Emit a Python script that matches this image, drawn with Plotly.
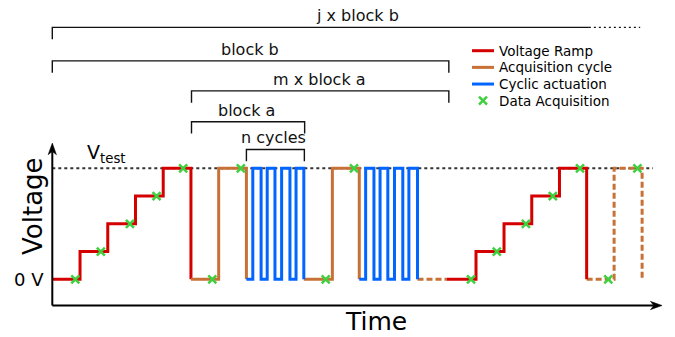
import plotly.graph_objects as go

# ---------------- data (time in step units, voltage in step levels) ----------------
ramp1_t = [0.0, 1.0, 2.0, 3.0, 4.0, 5.0]
ramp1_v = [0, 1, 2, 3, 4, 0]
ramp2_t = [14.23, 15.28, 16.29, 17.29, 18.29, 19.27]
ramp2_v = [0, 1, 2, 3, 4, 0]

acq1_t = [5.0, 6.0, 7.0]
acq1_v = [0, 4, 0]
acq2_t = [9.07, 10.1, 11.07]
acq2_v = [0, 4, 0]
acq3_t = [13.17, 14.23]          # dashed
acq3_v = [0, 0]
acq4_t = [19.27, 20.26, 21.27]   # dashed
acq4_v = [0, 4, 0]

act1_t = [7.0, 7.23, 7.53, 7.75, 8.03, 8.27, 8.57, 8.79, 9.07]
act1_v = [0, 4, 0, 4, 0, 4, 0, 4, 0]
act2_t = [11.07, 11.3, 11.6, 11.82, 12.1, 12.34, 12.64, 12.86, 13.17]
act2_v = [0, 4, 0, 4, 0, 4, 0, 4, 0]

daq_t = [0.83, 1.75, 2.80, 3.76, 4.72, 5.77, 6.80, 9.86, 10.88,
         15.10, 16.03, 17.08, 18.05, 19.03, 20.05, 21.10]
daq_v = [0, 1, 2, 3, 4, 0, 4, 0, 4, 0, 1, 2, 3, 4, 0, 4]

v_test_level = 4
v_test_end = 21.66

bracket_labels = ["j x block b", "block b", "m x block a", "block a", "n cycles"]
bracket_start = [0.0, 0.0, 5.02, 5.02, 7.0]
bracket_end = [21.2, 14.3, 14.3, 9.1, 9.09]
bracket_solid_end = [19.35, 14.3, 14.3, 9.1, 9.09]
bracket_level = [9.08, 7.87, 6.79, 5.68, 4.68]
bracket_right_tick = [False, True, True, True, True]
bracket_label_t = [11.0, 7.13, 9.65, 7.01, 7.96]
bracket_tick = 0.43

legend_labels = ["Voltage Ramp", "Acquisition cycle", "Cyclic actuation", "Data Acquisition"]
legend_kinds = ["line", "line", "line", "marker"]

# axis extents (data units)
x_view = [-1.886, 22.456]
y_view = [-2.079, 10.065]
axis_origin = (0.0, -0.944)
x_axis_end = 21.99
y_axis_end = 4.91

# ---------------- styles ----------------
RED = "#d40000"
ORANGE = "#c87137"
BLUE = "#0066ff"
GREEN = "#3fcf3f"
legend_colors = [RED, ORANGE, BLUE, GREEN]
FONT = "DejaVu Sans"
LW = 3
W, H = 675, 337

fig = go.Figure()

def add_line(t, v, color, name, dash="solid"):
    fig.add_trace(go.Scatter(
        x=t, y=v, mode="lines", line=dict(color=color, width=LW, shape="hv", dash=dash),
        name=name, showlegend=False, hoverinfo="skip"))

add_line(ramp1_t, ramp1_v, RED, "Voltage Ramp")
add_line(acq1_t, acq1_v, ORANGE, "Acquisition cycle")
add_line(acq2_t, acq2_v, ORANGE, "Acquisition cycle")
add_line(acq3_t, acq3_v, ORANGE, "Acquisition cycle", dash="6px,3px")
add_line(acq4_t, acq4_v, ORANGE, "Acquisition cycle", dash="6px,3px")
add_line(ramp2_t, ramp2_v, RED, "Voltage Ramp")
add_line(act1_t, act1_v, BLUE, "Cyclic actuation")
add_line(act2_t, act2_v, BLUE, "Cyclic actuation")

MARKER = dict(symbol="x-thin", size=8, color=GREEN, line=dict(color=GREEN, width=2.5))
fig.add_trace(go.Scatter(x=daq_t, y=daq_v, mode="markers", name="Data Acquisition",
                         marker=MARKER, showlegend=False, hoverinfo="skip"))

shapes = []
annotations = []

# V_test dotted reference line
shapes.append(dict(type="line", xref="x", yref="y", x0=0, x1=v_test_end,
                   y0=v_test_level, y1=v_test_level, layer="below",
                   line=dict(color="#333333", width=2, dash="dot")))

# brackets
for lab, s, e, se, lv, rt, lt in zip(bracket_labels, bracket_start, bracket_end,
                                     bracket_solid_end, bracket_level,
                                     bracket_right_tick, bracket_label_t):
    path = f"M{s},{lv - bracket_tick} L{s},{lv} L{se},{lv}"
    if rt:
        path += f" L{se},{lv - bracket_tick}"
    shapes.append(dict(type="path", xref="x", yref="y", path=path,
                       line=dict(color="#111111", width=1.4)))
    if e > se:
        shapes.append(dict(type="line", xref="x", yref="y", x0=se, x1=e, y0=lv, y1=lv,
                           line=dict(color="#111111", width=1.4, dash="2px,3px")))
    annotations.append(dict(x=lt, y=lv, xref="x", yref="y", text=lab, showarrow=False,
                            xanchor="center", yanchor="bottom",
                            font=dict(family=FONT, size=16, color="#111111")))

# axes (lines + notched arrow heads)
ox, oy = axis_origin
HL, HW, HN = 0.42, 0.15, 0.12   # head length, half width, notch (data units)
shapes.append(dict(type="line", xref="x", yref="y", x0=ox, y0=oy, x1=x_axis_end - HL + HN, y1=oy,
                   line=dict(color="black", width=2)))
shapes.append(dict(type="line", xref="x", yref="y", x0=ox, y0=oy, x1=ox, y1=y_axis_end - HL + HN,
                   line=dict(color="black", width=2)))
shapes.append(dict(type="path", xref="x", yref="y", fillcolor="black",
                   line=dict(color="black", width=0.5),
                   path=(f"M{x_axis_end},{oy} L{x_axis_end - HL},{oy + HW} "
                         f"L{x_axis_end - HL + HN},{oy} L{x_axis_end - HL},{oy - HW} Z")))
shapes.append(dict(type="path", xref="x", yref="y", fillcolor="black",
                   line=dict(color="black", width=0.5),
                   path=(f"M{ox},{y_axis_end} L{ox - HW},{y_axis_end - HL} "
                         f"L{ox},{y_axis_end - HL + HN} L{ox + HW},{y_axis_end - HL} Z")))

annotations.append(dict(x=11.67, y=y_view[0], xref="x", yref="y", text="Time", showarrow=False,
                        xanchor="center", yanchor="bottom", borderpad=0,
                        font=dict(family=FONT, size=25, color="black")))
annotations.append(dict(x=-0.70, y=2.64, xref="x", yref="y", text="Voltage", showarrow=False,
                        textangle=-90, xanchor="center", yanchor="middle",
                        font=dict(family=FONT, size=26, color="black")))
annotations.append(dict(x=-0.22, y=0, xref="x", yref="y", text="0 V", showarrow=False,
                        xanchor="right", yanchor="middle",
                        font=dict(family=FONT, size=18, color="black")))
annotations.append(dict(x=1.18, y=v_test_level, xref="x", yref="y", text="V<sub>test</sub>",
                        showarrow=False, xanchor="left", yanchor="bottom",
                        font=dict(family=FONT, size=19, color="black")))

# legend (drawn in paper coordinates)
LEG_X0, LEG_X1, LEG_TEXT_X = 472, 494, 497
LEG_ROW0, LEG_DY = 50.7, 16.67
for i, (lab, col, kind) in enumerate(zip(legend_labels, legend_colors, legend_kinds)):
    py = LEG_ROW0 + i * LEG_DY
    yp = 1 - py / H
    if kind == "line":
        shapes.append(dict(type="line", xref="paper", yref="paper",
                           x0=LEG_X0 / W, x1=LEG_X1 / W, y0=yp, y1=yp,
                           line=dict(color=col, width=LW)))
    else:
        fig.add_trace(go.Scatter(x=[(LEG_X0 + LEG_X1) / 2 / W], y=[yp], xaxis="x2", yaxis="y2",
                                 mode="markers", marker=MARKER, showlegend=False,
                                 hoverinfo="skip"))
    annotations.append(dict(x=LEG_TEXT_X / W, y=yp, xref="paper", yref="paper", text=lab,
                            showarrow=False, xanchor="left", yanchor="middle",
                            font=dict(family=FONT, size=13.5, color="black")))

fig.update_layout(
    width=W, height=H, autosize=False,
    margin=dict(l=0, r=0, t=0, b=0, pad=0),
    paper_bgcolor="white", plot_bgcolor="white",
    xaxis=dict(range=x_view, visible=False, fixedrange=True),
    yaxis=dict(range=y_view, visible=False, fixedrange=True),
    xaxis2=dict(range=[0, 1], visible=False, fixedrange=True, overlaying="x"),
    yaxis2=dict(range=[0, 1], visible=False, fixedrange=True, overlaying="y"),
    shapes=shapes, annotations=annotations,
    showlegend=False,
)

fig.write_html("out.html")
